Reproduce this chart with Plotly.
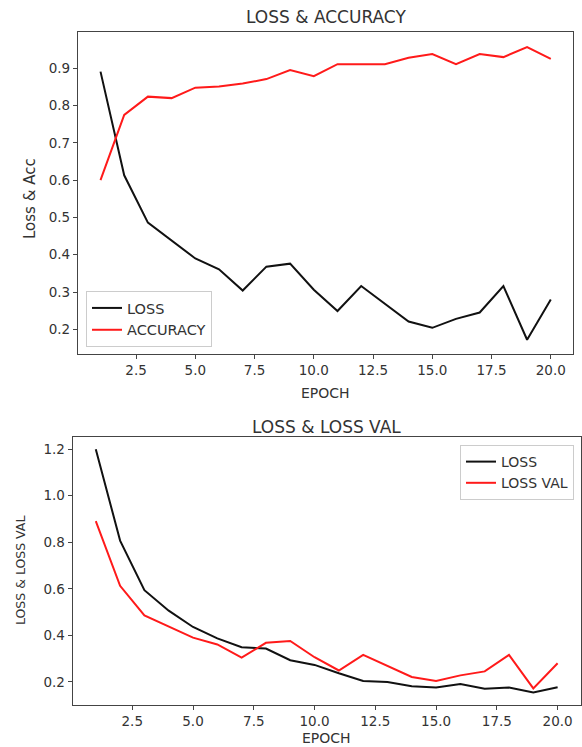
import plotly.graph_objects as go

epochs = list(range(1, 21))
acc_loss = [0.891, 0.613, 0.486, 0.438, 0.390, 0.361, 0.304, 0.368, 0.376, 0.306,
            0.249, 0.316, 0.268, 0.221, 0.204, 0.228, 0.245, 0.316, 0.172, 0.280]
accuracy = [0.600, 0.775, 0.824, 0.820, 0.848, 0.851, 0.859, 0.871, 0.895, 0.879,
            0.911, 0.911, 0.911, 0.928, 0.938, 0.911, 0.938, 0.930, 0.957, 0.925]
train_loss = [1.200, 0.807, 0.594, 0.506, 0.436, 0.387, 0.349, 0.343, 0.293, 0.273,
              0.237, 0.204, 0.199, 0.181, 0.176, 0.191, 0.171, 0.176, 0.154, 0.177]
val_loss = acc_loss

x_ticks = [2.5, 5.0, 7.5, 10.0, 12.5, 15.0, 17.5, 20.0]
y_ticks_top = [0.2, 0.3, 0.4, 0.5, 0.6, 0.7, 0.8, 0.9]
y_ticks_bot = [0.2, 0.4, 0.6, 0.8, 1.0, 1.2]

W, H = 582, 747
FONT = "DejaVu Sans"
TXT = "#333333"
AX = "#444444"

def px_x(p):
    return p / W

def px_y(p):
    return 1 - p / H

fig = go.Figure()
fig.add_trace(go.Scatter(x=epochs, y=acc_loss, mode="lines", name="LOSS",
                         line=dict(color="#111111", width=2), xaxis="x", yaxis="y", legend="legend"))
fig.add_trace(go.Scatter(x=epochs, y=accuracy, mode="lines", name="ACCURACY",
                         line=dict(color="#ff1a1a", width=2), xaxis="x", yaxis="y", legend="legend"))
fig.add_trace(go.Scatter(x=epochs, y=train_loss, mode="lines", name="LOSS",
                         line=dict(color="#111111", width=2), xaxis="x2", yaxis="y2", legend="legend2"))
fig.add_trace(go.Scatter(x=epochs, y=val_loss, mode="lines", name="LOSS VAL",
                         line=dict(color="#ff1a1a", width=2), xaxis="x2", yaxis="y2", legend="legend2"))

axis_common = dict(showline=True, mirror=True, linecolor=AX, linewidth=1.2,
                   ticks="outside", ticklen=4, tickcolor=AX, showgrid=False, zeroline=False,
                   tickfont=dict(family=FONT, size=13.5, color=TXT), tickformat=".1f")

fig.update_layout(
    width=W, height=H,
    margin=dict(l=0, r=0, t=0, b=0),
    paper_bgcolor="white", plot_bgcolor="white",
    font=dict(family=FONT, color=TXT),
    xaxis=dict(axis_common, domain=[px_x(78), px_x(573.3)], range=[0.05, 20.95],
               tickvals=x_ticks, anchor="y"),
    yaxis=dict(axis_common, domain=[px_y(354), px_y(32.3)], range=[0.1338, 0.9965],
               tickvals=y_ticks_top, anchor="x"),
    xaxis2=dict(axis_common, domain=[px_x(72.7), px_x(580.7)], range=[0.05, 20.95],
                tickvals=x_ticks, anchor="y2"),
    yaxis2=dict(axis_common, domain=[px_y(705), px_y(437)], range=[0.1007, 1.2523],
                tickvals=y_ticks_bot, anchor="x2"),
    legend=dict(x=px_x(86), y=px_y(347), xanchor="left", yanchor="bottom",
                bgcolor="rgba(255,255,255,0.85)", bordercolor="#cccccc", borderwidth=1,
                font=dict(family=FONT, size=14.5, color=TXT), tracegroupgap=0, itemwidth=30),
    legend2=dict(x=px_x(574), y=px_y(445), xanchor="right", yanchor="top",
                 bgcolor="rgba(255,255,255,0.85)", bordercolor="#cccccc", borderwidth=1,
                 font=dict(family=FONT, size=14, color=TXT), tracegroupgap=0, itemwidth=30),
    annotations=[
        dict(text="LOSS & ACCURACY", x=px_x(325.6), y=px_y(17), xref="paper", yref="paper",
             showarrow=False, font=dict(family=FONT, size=17, color=TXT), xanchor="center", yanchor="middle"),
        dict(text="EPOCH", x=px_x(325.6), y=px_y(393), xref="paper", yref="paper",
             showarrow=False, font=dict(family=FONT, size=14, color=TXT), xanchor="center", yanchor="middle"),
        dict(text="Loss & Acc", x=px_x(30), y=px_y(199), xref="paper", yref="paper", textangle=-90,
             showarrow=False, font=dict(family=FONT, size=15, color=TXT), xanchor="center", yanchor="middle"),
        dict(text="LOSS & LOSS VAL", x=px_x(326.7), y=px_y(427), xref="paper", yref="paper",
             showarrow=False, font=dict(family=FONT, size=17, color=TXT), xanchor="center", yanchor="middle"),
        dict(text="EPOCH", x=px_x(326.7), y=px_y(738), xref="paper", yref="paper",
             showarrow=False, font=dict(family=FONT, size=14, color=TXT), xanchor="center", yanchor="middle"),
        dict(text="LOSS & LOSS VAL", x=px_x(20), y=px_y(571), xref="paper", yref="paper", textangle=-90,
             showarrow=False, font=dict(family=FONT, size=12.5, color=TXT), xanchor="center", yanchor="middle"),
    ],
)

fig.write_html("out.html", config={"displayModeBar": False},
               post_script="document.body.style.margin='0';document.body.style.overflow='hidden';")
